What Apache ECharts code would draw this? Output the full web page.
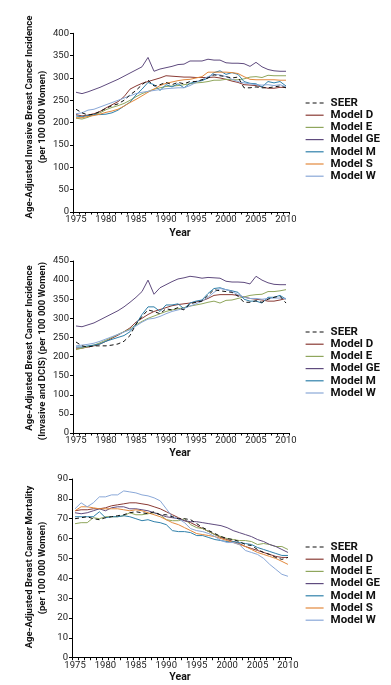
<!DOCTYPE html>
<html>
<head>
<meta charset="utf-8">
<script src="https://cdn.jsdelivr.net/npm/echarts@6/dist/echarts.min.js"></script>
<style>
html,body{margin:0;padding:0;background:#fff;}
#c{width:391px;height:685px;}
</style>
</head>
<body>
<div id="c"></div>
<script>
const years = [];
for (let y = 1975; y <= 2010; y++) years.push(String(y));

// Panel 1: invasive incidence
const inv_seer = [230,222,217,219,225,232,238,242,250,262,272,285,295,282,285,290,285,290,287,292,292,296,300,307,305,303,300,302,278,278,280,278,278,280,282,278];
const inv_d = [218,215,217,220,225,233,240,247,258,275,282,288,292,296,300,305,304,303,302,302,301,301,301,302,300,297,293,290,285,284,283,280,277,277,279,279];
const inv_e = [210,208,212,218,222,229,234,238,243,250,258,265,270,275,278,281,282,283,285,287,289,290,292,295,295,297,296,296,298,302,303,301,306,305,305,305];
const inv_ge = [268,265,269,274,279,285,291,297,304,311,318,325,346,315,320,323,326,330,331,338,338,338,342,340,340,334,333,333,332,326,335,325,319,316,315,315];
const inv_m = [215,213,216,218,218,219,222,228,237,246,262,275,290,285,272,285,280,287,278,288,292,294,300,312,316,308,312,308,292,288,287,280,292,289,292,282];
const inv_s = [211,211,214,216,219,223,226,230,237,245,252,260,268,275,283,288,291,294,296,297,300,303,313,313,313,313,312,310,303,297,296,296,296,296,295,295];
const inv_w = [220,222,228,230,235,240,245,250,255,260,265,268,270,272,274,276,277,278,278,283,290,296,303,308,307,303,297,292,289,287,285,284,285,283,285,280];

// Panel 2: invasive + DCIS incidence
const all_seer = [238,228,225,228,228,228,230,233,240,255,285,305,322,318,312,325,322,328,322,338,342,345,360,375,372,370,368,358,342,342,346,342,350,355,358,340];
const all_d = [222,222,225,228,233,240,248,256,265,275,290,300,310,318,323,328,333,336,338,340,343,346,352,360,362,362,362,360,356,352,350,348,345,345,348,352];
const all_e = [218,222,226,230,236,243,250,258,265,272,283,292,300,306,312,318,322,325,328,332,335,338,342,345,340,347,348,352,356,360,362,363,370,370,372,375];
const all_ge = [280,278,283,288,296,304,312,320,330,342,355,370,400,363,380,388,396,403,406,410,408,405,407,406,405,397,395,395,394,390,410,400,393,389,388,388];
const all_m = [225,225,228,230,233,240,245,250,255,265,285,310,330,330,318,335,335,338,325,340,345,348,365,378,380,375,372,368,350,345,345,340,355,355,360,350];
const all_w = [228,230,232,235,240,246,252,258,264,270,280,290,298,300,305,312,318,322,326,332,338,345,355,368,378,375,370,362,355,352,352,350,352,353,353,352];

// Panel 3: mortality
const mor_seer = [70,70.5,71,70,69.5,70.5,71,71.5,72,73,73.5,73,72.5,73.5,72,72,71,70,70,69.5,67.5,65.5,64,62.5,61,60,59.5,58.5,57,56.5,54.5,53,52,50.5,49.5,50.5];
const mor_d = [74,74.5,74.5,75,75,75.5,76.5,77,77.5,78,78,77.5,77,76,75,73.5,72,70.5,69,68,66.5,65,63.5,62,60.5,59.5,58.5,57.5,56,55,54,53,52,51,50.5,50.5];
const mor_e = [67.5,68,68,70.5,70,71,71,71,71.5,73,72,72,72.5,73,72,69.5,69,69,70,67,65.5,65,63.5,62,61,60,59.5,59,59,58.5,57,57.5,57,56,56,54.5];
const mor_ge = [73,72.5,73,74,75,74,75.5,76,76,75,75,74.5,74,73,72,71,70.5,70,69,68.5,68.5,68,67.5,67,66.5,65.5,64,63,62,61,59.5,58.5,57,56,54.5,53];
const mor_m = [71,71,71,71,73.5,70.5,71,71,71.5,71,70,69,69.5,68.5,68,67,64,63.5,63.5,63,61.5,61.5,60.5,59.5,59,58.5,58.5,58,57.5,57,55.5,54.5,53.5,52.5,51.5,51.5];
const mor_s = [74,76,76,75.5,75,75,75,75,74.5,74,74.5,74,73,72,71,69.5,68,67,65.5,64,62.5,62,61.5,61,60,59,58,57,56,54.5,53,52,51,50,48.5,47];
const mor_w = [75,78,76,78,81,81,82,82,84,83.5,83,82,81.5,80.5,79,75,71,70,68,65,64,63.5,62.5,61,59,58,58,57,54,53,52,50,47,44.5,42,41];

const yTicks1 = {max: 400, interval: 50};
const yTicks2 = {max: 450, interval: 50};
const yTicks3 = {max: 90, interval: 10};

const colors = {
  'SEER': '#111111',
  'Model D': '#8a3a34',
  'Model E': '#8fa65c',
  'Model GE': '#5f4b7e',
  'Model M': '#2f80aa',
  'Model S': '#e3893c',
  'Model W': '#8aa8d8'
};

const FONT = 'Roboto';
const txt = '#222';

function mkSeries(name, data, idx) {
  const dashed = name === 'SEER';
  return {
    type: 'line', name: name, data: data,
    xAxisIndex: idx, yAxisIndex: idx,
    symbol: 'none', smooth: false, z: dashed ? 10 : 2,
    lineStyle: {color: colors[name], width: 1, type: dashed ? [4, 3] : 'solid'},
    itemStyle: {color: colors[name]},
    emphasis: {disabled: true}
  };
}

const grids = [
  {left: 73, right: 102, top: 33.3, height: 178.7},
  {left: 73, right: 102, top: 261, height: 172},
  {left: 72, right: 100, top: 479, height: 178.7}
];

function xAx(i) {
  return {
    type: 'category', gridIndex: i, data: years, boundaryGap: true,
    axisLine: {lineStyle: {color: '#000', width: 1}},
    axisTick: {show: true, interval: 0, length: 2.5, lineStyle: {color: '#000'}},
    axisLabel: {interval: 4, margin: 3, fontFamily: FONT, fontSize: 9.5, color: txt},
    splitLine: {show: false}
  };
}
function yAx(i, t) {
  return {
    type: 'value', gridIndex: i, min: 0, max: t.max, interval: t.interval,
    axisLine: {show: true, lineStyle: {color: '#000', width: 1}},
    axisTick: {show: true, length: 3, lineStyle: {color: '#000'}},
    axisLabel: {margin: 4, fontFamily: FONT, fontSize: 9.5, color: txt},
    splitLine: {show: false}
  };
}

function legend(names, top) {
  return {
    orient: 'vertical', left: 300, top: top,
    data: names, itemWidth: 18, itemHeight: 12, itemGap: 0.2,
    selectedMode: false,
    itemStyle: {opacity: 0},
    lineStyle: {width: 1.2},
    textStyle: {fontFamily: FONT, fontSize: 11.5, fontWeight: 'bold', color: '#111', lineHeight: 12, padding: [0, 0, 0, 2]}
  };
}

const names1 = ['SEER','Model D','Model E','Model GE','Model M','Model S','Model W'];
const names2 = ['SEER','Model D','Model E','Model GE','Model M','Model W'];

function vtext(x, y, text) {
  return {type: 'text', x: x, y: y, rotation: Math.PI / 2,
    style: {text: text, fontFamily: FONT, fontSize: 9.5, fontWeight: 'bold', fill: '#111',
      align: 'center', verticalAlign: 'middle'}};
}
function htext(x, y, text) {
  return {type: 'text', x: x, y: y,
    style: {text: text, fontFamily: FONT, fontSize: 10.5, fontWeight: 'bold', fill: '#111',
      align: 'center', verticalAlign: 'middle'}};
}

const option = {
  animation: false,
  backgroundColor: '#fff',
  grid: grids,
  xAxis: [xAx(0), xAx(1), xAx(2)],
  yAxis: [yAx(0, yTicks1), yAx(1, yTicks2), yAx(2, yTicks3)],
  legend: [legend(names1, 92), legend(names2, 321), legend(names1, 536)],
  series: [
    mkSeries('Model D', inv_d, 0), mkSeries('Model E', inv_e, 0), mkSeries('Model GE', inv_ge, 0),
    mkSeries('Model M', inv_m, 0), mkSeries('Model S', inv_s, 0), mkSeries('Model W', inv_w, 0),
    mkSeries('SEER', inv_seer, 0),
    mkSeries('Model D', all_d, 1), mkSeries('Model E', all_e, 1), mkSeries('Model GE', all_ge, 1),
    mkSeries('Model M', all_m, 1), mkSeries('Model W', all_w, 1),
    mkSeries('SEER', all_seer, 1),
    mkSeries('Model D', mor_d, 2), mkSeries('Model E', mor_e, 2), mkSeries('Model GE', mor_ge, 2),
    mkSeries('Model M', mor_m, 2), mkSeries('Model S', mor_s, 2), mkSeries('Model W', mor_w, 2),
    mkSeries('SEER', mor_seer, 2)
  ],
  graphic: [
    vtext(30, 117, 'Age-Adjusted Invasive Breast Cancer Incidence'),
    vtext(43, 117, '(per 100 000 Women)'),
    vtext(30, 348, 'Age-Adjusted Breast Cancer Incidence'),
    vtext(43, 351, '(Invasive and DCIS) (per 100 000 Women)'),
    vtext(30, 567, 'Age-Adjusted Breast Cancer Mortality'),
    vtext(43, 568, '(per 100 000 Women)'),
    htext(180, 233, 'Year'),
    htext(180, 453, 'Year'),
    htext(180, 677, 'Year')
  ]
};

const chart = echarts.init(document.getElementById('c'), null, {renderer: 'canvas'});
chart.setOption(option);
</script>
</body>
</html>
